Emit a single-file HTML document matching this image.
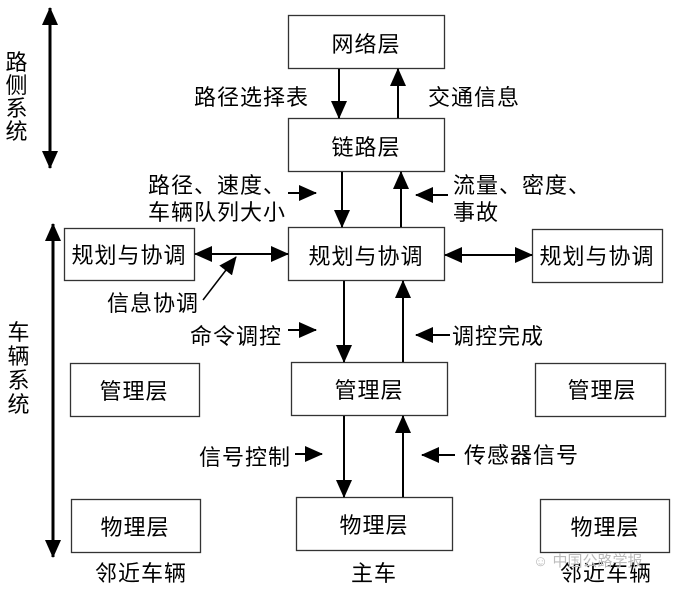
<!DOCTYPE html>
<html><head><meta charset="utf-8"><style>
html,body{margin:0;padding:0;background:#fff;}
svg{display:block;}
text{font-family:"Liberation Sans","Noto Sans CJK SC",sans-serif;font-size:22px;letter-spacing:1px;fill:#000;}
</style></head><body>
<svg width="673" height="591" viewBox="0 0 673 591" xmlns="http://www.w3.org/2000/svg">
<defs>
<marker id="a" markerUnits="userSpaceOnUse" markerWidth="20" markerHeight="16" refX="17" refY="8" orient="auto-start-reverse">
<polygon points="0,0 18,8 0,16" fill="#000"/></marker>
</defs>
<g fill="#fff" stroke="#333" stroke-width="1.3">
<rect x="288.5" y="15.5" width="156" height="53"/>
<rect x="288.5" y="118.5" width="156" height="53"/>
<rect x="288.5" y="227.5" width="156" height="53"/>
<rect x="64.5" y="228.5" width="130" height="52"/>
<rect x="532.5" y="229.5" width="130" height="53"/>
<rect x="291.5" y="362.5" width="156" height="53"/>
<rect x="70.5" y="363.5" width="129" height="53"/>
<rect x="535.5" y="363.5" width="130" height="53"/>
<rect x="296.5" y="497.5" width="156" height="53"/>
<rect x="71.5" y="499.5" width="129" height="53"/>
<rect x="540.5" y="499.5" width="129" height="53"/>
</g>
<g stroke="#000" stroke-width="2" marker-end="url(#a)">
<line x1="339" y1="69" x2="339" y2="118"/>
<line x1="398" y1="118" x2="398" y2="69"/>
<line x1="342" y1="172" x2="342" y2="227"/>
<line x1="401" y1="227" x2="401" y2="172"/>
<line x1="344" y1="281" x2="344" y2="362"/>
<line x1="403" y1="362" x2="403" y2="281"/>
<line x1="344" y1="416" x2="344" y2="497"/>
<line x1="403" y1="497" x2="403" y2="416"/>
<line x1="195" y1="254" x2="288" y2="254" marker-start="url(#a)"/>
<line x1="445" y1="255" x2="532" y2="255" marker-start="url(#a)"/>
<line x1="50" y1="8" x2="50" y2="168" marker-start="url(#a)" stroke-width="3"/>
<line x1="53" y1="224" x2="53" y2="557" marker-start="url(#a)" stroke-width="3"/>
<line x1="288" y1="193" x2="316" y2="193"/>
<line x1="448" y1="195" x2="416" y2="195"/>
<line x1="288" y1="330" x2="316" y2="330"/>
<line x1="450" y1="335" x2="416" y2="335"/>
<line x1="295" y1="454" x2="322" y2="454"/>
<line x1="455" y1="455" x2="422" y2="455"/>
<line x1="203" y1="300" x2="236" y2="257" stroke-width="1.5"/>
</g>
<g text-anchor="middle">
<text x="366" y="52">网络层</text>
<text x="366" y="155">链路层</text>
<text x="366" y="264">规划与协调</text>
<text x="129" y="263">规划与协调</text>
<text x="597" y="264">规划与协调</text>
<text x="369" y="398">管理层</text>
<text x="134" y="399">管理层</text>
<text x="602" y="398">管理层</text>
<text x="374" y="533">物理层</text>
<text x="135" y="535">物理层</text>
<text x="605" y="535">物理层</text>
<text x="141" y="581">邻近车辆</text>
<text x="374" y="581">主车</text>
<text x="606" y="581">邻近车辆</text>
</g>
<text x="194" y="105">路径选择表</text>
<text x="428" y="105">交通信息</text>
<text x="148" y="193">路径、速度、</text>
<text x="148" y="220">车辆队列大小</text>
<text x="453" y="193">流量、密度、</text>
<text x="453" y="220">事故</text>
<text x="107" y="311">信息协调</text>
<text x="190" y="344">命令调控</text>
<text x="452" y="344">调控完成</text>
<text x="199" y="465">信号控制</text>
<text x="464" y="463">传感器信号</text>
<g text-anchor="middle">
<text x="17" y="70">路</text><text x="17" y="93">侧</text><text x="17" y="116">系</text><text x="17" y="139">统</text>
<text x="19" y="340">车</text><text x="19" y="364">辆</text><text x="19" y="388">系</text><text x="19" y="412">统</text>
</g>
<text x="533" y="566" style="font-size:15px;letter-spacing:0;fill:#bbb">☺ 中国公路学报</text>
</svg>
</body></html>
